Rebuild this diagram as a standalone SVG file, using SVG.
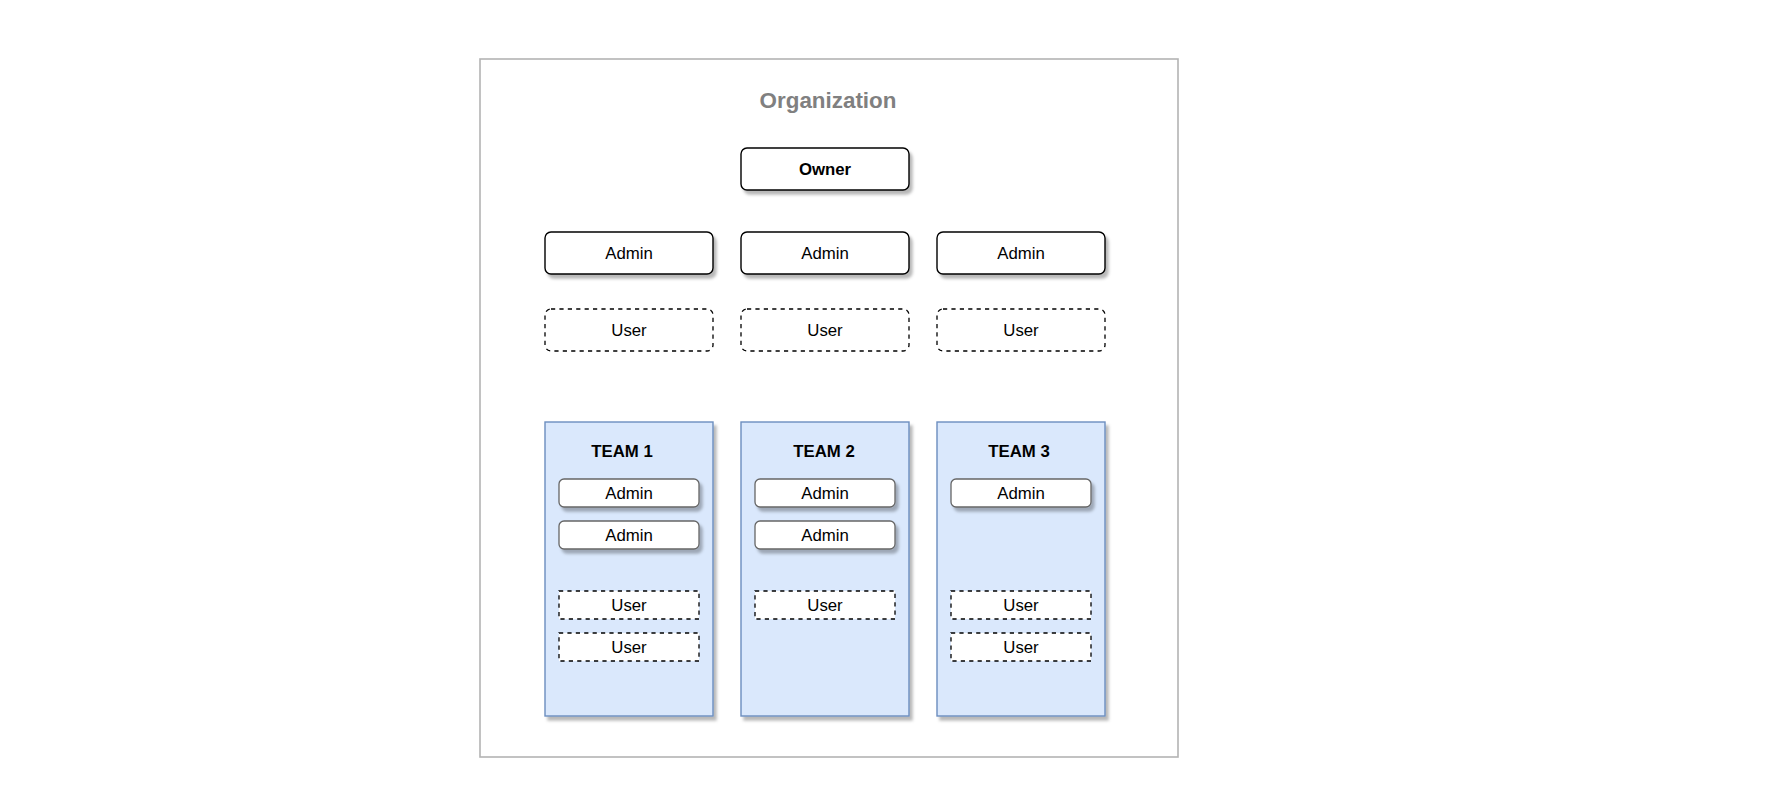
<svg xmlns="http://www.w3.org/2000/svg" width="1770" height="804" viewBox="0 0 1770 804">
<defs>
<filter id="sh" x="-10%" y="-10%" width="130%" height="140%">
<feDropShadow dx="3" dy="4" stdDeviation="1.4" flood-color="#000" flood-opacity="0.28"/>
</filter>
</defs>
<style>
text{font-family:"Liberation Sans",Arial,sans-serif;font-size:16.8px;fill:#000;text-anchor:middle}
.b{font-weight:bold}
.title{font-size:22.4px;font-weight:bold;fill:#808080}
.frame{fill:#fff;stroke:#b3b3b3;stroke-width:1.6}
.role{fill:#fff;stroke:#000;stroke-width:1.4;filter:url(#sh)}
.user{fill:#fff;stroke:#000;stroke-width:1.3;stroke-dasharray:4.2 4.2}
.team{fill:#dae8fc;stroke:#6c8ebf;stroke-width:1.4;filter:url(#sh)}
.iadmin{fill:#fff;stroke:#666;stroke-width:1.3;filter:url(#sh)}
</style>
<rect width="1770" height="804" fill="#fff"/>
<g id="organization">
<rect class="frame" x="480" y="59" width="698" height="698"/>
<text class="title" x="828" y="108">Organization</text>
</g>
<g id="connectors"></g>
<g id="owner">
<rect class="role" x="741" y="148" width="168" height="42" rx="6"/>
<text class="b" x="825" y="175">Owner</text>
</g>
<g id="admin-1"><rect class="role" x="545" y="232" width="168" height="42" rx="6"/><text x="629" y="259">Admin</text></g>
<g id="admin-2"><rect class="role" x="741" y="232" width="168" height="42" rx="6"/><text x="825" y="259">Admin</text></g>
<g id="admin-3"><rect class="role" x="937" y="232" width="168" height="42" rx="6"/><text x="1021" y="259">Admin</text></g>
<g id="user-1"><rect class="user" x="545" y="309" width="168" height="42" rx="6"/><text x="629" y="336">User</text></g>
<g id="user-2"><rect class="user" x="741" y="309" width="168" height="42" rx="6"/><text x="825" y="336">User</text></g>
<g id="user-3"><rect class="user" x="937" y="309" width="168" height="42" rx="6"/><text x="1021" y="336">User</text></g>
<g id="team-1">
<rect class="team" x="545" y="422" width="168" height="294"/>
<text class="b" x="622" y="457">TEAM 1</text>
</g>
<g id="team-2">
<rect class="team" x="741" y="422" width="168" height="294"/>
<text class="b" x="824" y="457">TEAM 2</text>
</g>
<g id="team-3">
<rect class="team" x="937" y="422" width="168" height="294"/>
<text class="b" x="1019" y="457">TEAM 3</text>
</g>
<g id="team1-admin-1"><rect class="iadmin" x="559" y="479" width="140" height="28" rx="5"/><text x="629" y="499">Admin</text></g>
<g id="team1-admin-2"><rect class="iadmin" x="559" y="521" width="140" height="28" rx="5"/><text x="629" y="541">Admin</text></g>
<g id="team1-user-1"><rect class="user" x="559" y="591" width="140" height="28"/><text x="629" y="611">User</text></g>
<g id="team1-user-2"><rect class="user" x="559" y="633" width="140" height="28"/><text x="629" y="653">User</text></g>
<g id="team2-admin-1"><rect class="iadmin" x="755" y="479" width="140" height="28" rx="5"/><text x="825" y="499">Admin</text></g>
<g id="team2-admin-2"><rect class="iadmin" x="755" y="521" width="140" height="28" rx="5"/><text x="825" y="541">Admin</text></g>
<g id="team2-user-1"><rect class="user" x="755" y="591" width="140" height="28"/><text x="825" y="611">User</text></g>
<g id="team3-admin-1"><rect class="iadmin" x="951" y="479" width="140" height="28" rx="5"/><text x="1021" y="499">Admin</text></g>
<g id="team3-user-1"><rect class="user" x="951" y="591" width="140" height="28"/><text x="1021" y="611">User</text></g>
<g id="team3-user-2"><rect class="user" x="951" y="633" width="140" height="28"/><text x="1021" y="653">User</text></g>
</svg>
